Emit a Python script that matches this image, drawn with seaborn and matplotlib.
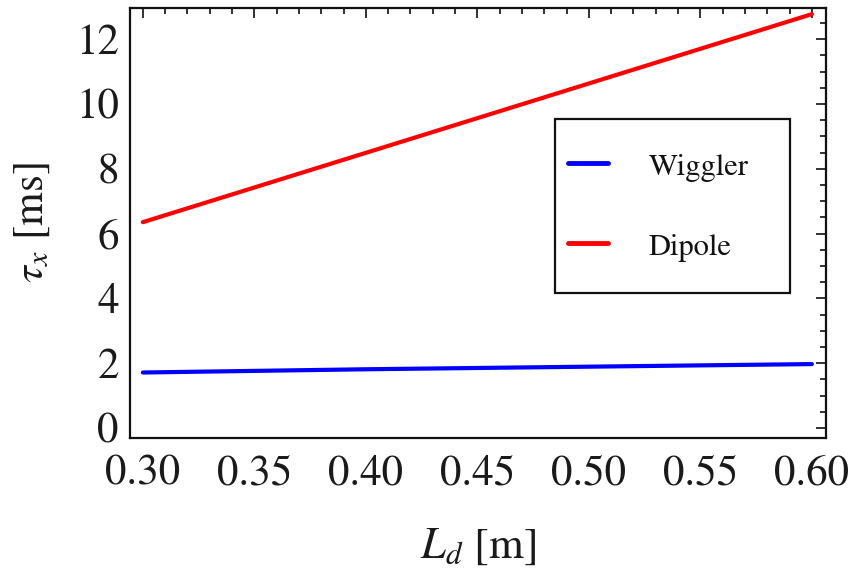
import matplotlib
matplotlib.use("Agg")
import matplotlib.pyplot as plt
from matplotlib.ticker import MultipleLocator, FormatStrFormatter
from matplotlib.patches import Rectangle
import seaborn as sns
import pandas as pd

# Damping time vs. drift length
drift_length = [0.30, 0.35, 0.40, 0.45, 0.50, 0.55, 0.60]
tau_wiggler = [1.71, 1.76, 1.81, 1.85, 1.89, 1.93, 1.97]
tau_dipole = [6.35, 7.42, 8.49, 9.56, 10.63, 11.70, 12.77]
series_names = ["Wiggler", "Dipole"]
series_colors = ["#0000ff", "#ff0000"]

df = pd.DataFrame({
    "L": drift_length * 2,
    "tau": tau_wiggler + tau_dipole,
    "source": [series_names[0]] * len(drift_length) + [series_names[1]] * len(drift_length),
})

sns.set_style("white")
plt.rcParams["font.family"] = ["STIXGeneral", "DejaVu Serif"]
plt.rcParams["mathtext.fontset"] = "stix"

fig = plt.figure(figsize=(8.55, 5.71), dpi=100)
ax = fig.add_axes([0.152, 0.233, 0.814, 0.753])

sns.lineplot(data=df, x="L", y="tau", hue="source", hue_order=series_names,
             palette=series_colors, linewidth=3, ax=ax, legend=False)

ax.set_xlim(0.2942, 0.6063)
ax.set_ylim(-0.31, 12.96)
ax.xaxis.set_major_locator(MultipleLocator(0.05))
ax.xaxis.set_minor_locator(MultipleLocator(0.01))
ax.yaxis.set_major_locator(MultipleLocator(2))
ax.yaxis.set_minor_locator(MultipleLocator(0.5))
ax.xaxis.set_major_formatter(FormatStrFormatter("%.2f"))

ax.tick_params(which="both", direction="in", top=True, right=True,
               color="#222222", width=1.3, labelsize=31, labelcolor="#1a1a1a")
ax.tick_params(axis="x", which="major", length=7.5, pad=12)
ax.tick_params(axis="y", which="major", length=7.5, pad=8)
ax.tick_params(which="minor", length=4.5)
for s in ax.spines.values():
    s.set_color("#111111")
    s.set_linewidth(1.6)

ax.set_xlabel(r"$L_d$ [m]", fontsize=32, color="#1a1a1a", labelpad=24)
ax.set_ylabel(r"$\tau_x$ [ms]", fontsize=31, color="#1a1a1a", labelpad=17)

# Legend: frame drawn as its own box, entries placed inside it
ax.add_patch(Rectangle((0.6106, 0.3372), 0.3377, 0.4047, transform=ax.transAxes,
                       fill=True, facecolor="white", edgecolor="#111111",
                       linewidth=1.6, zorder=4))
handles = [plt.Line2D([], [], color=c, linewidth=3.5) for c in series_colors]
leg = ax.legend(handles, series_names, loc="upper left",
                bbox_to_anchor=(0.6293, 0.668), fontsize=22, frameon=False,
                handlelength=1.3, handleheight=1.0, handletextpad=1.35,
                labelspacing=1.61, borderpad=0, borderaxespad=0)
leg.set_zorder(5)
for t in leg.get_texts():
    t.set_color("#111111")

fig.savefig("out.png", dpi=100)
